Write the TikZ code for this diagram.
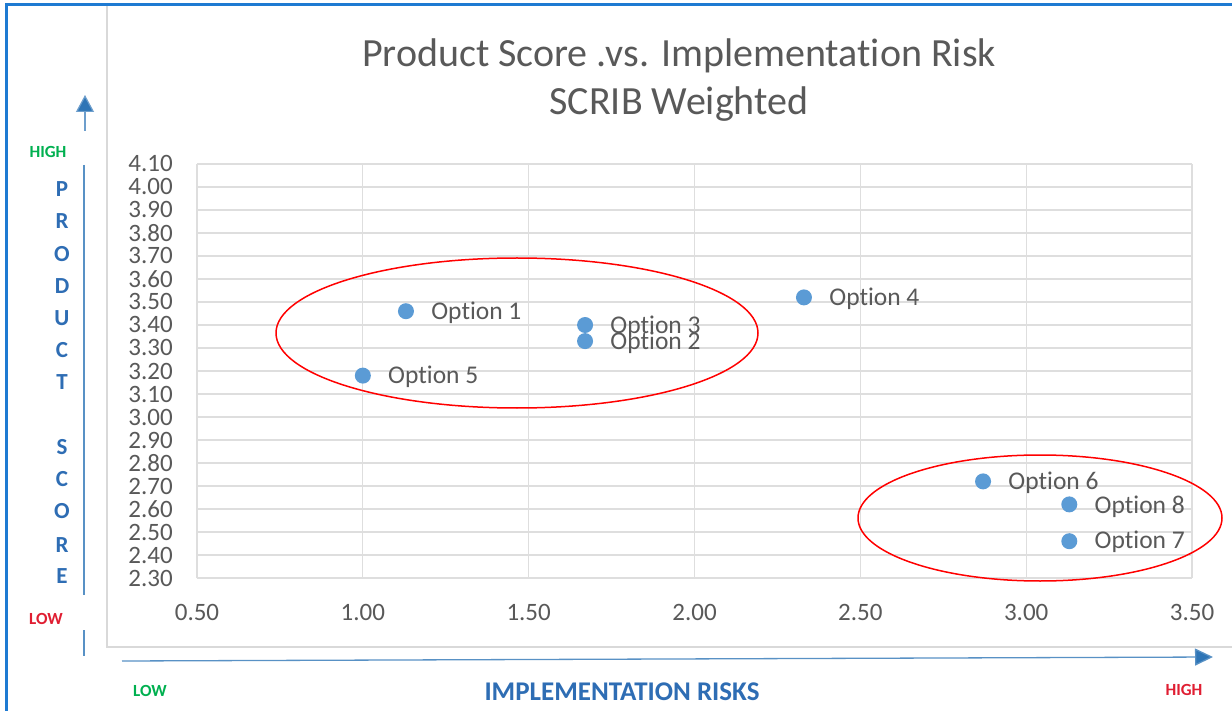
\documentclass[tikz,border=0pt]{standalone}
\usepackage{fontspec}
\setmainfont{Carlito}[Ligatures=NoCommon]
\usetikzlibrary{arrows.meta,shapes.geometric}
\definecolor{frameblue}{RGB}{30,122,210}
\definecolor{chartgray}{RGB}{217,217,217}
\definecolor{gridgray}{RGB}{222,222,222}
\definecolor{txtgray}{RGB}{89,89,89}
\definecolor{dotblue}{RGB}{91,155,213}
\definecolor{axisblue}{RGB}{46,117,182}
\definecolor{lblblue}{RGB}{46,109,180}
\definecolor{hgreen}{RGB}{0,176,80}
\definecolor{lred}{RGB}{224,30,50}
\tikzset{
  dot/.style={circle,fill=dotblue,draw=none,minimum size=16pt,inner sep=0pt},
  optlbl/.style={anchor=west,text=txtgray,font=\fontsize{25.5}{25.5}\selectfont,inner sep=0pt},
  ytick/.style={anchor=east,text=txtgray,font=\fontsize{25}{25}\selectfont,inner sep=0pt},
  xtick/.style={anchor=center,text=txtgray,font=\fontsize{25}{25}\selectfont,inner sep=0pt},
  titletxt/.style={anchor=base,text=txtgray,font=\fontsize{40}{40}\selectfont,inner sep=0pt},
  vletter/.style={text=lblblue,font=\fontsize{23}{23}\selectfont\bfseries,inner sep=0pt},
  small/.style={font=\fontsize{17}{17}\selectfont\bfseries,inner sep=0pt},
  ring/.style={ellipse,draw=red,line width=1.5pt,inner sep=0pt},
  axisline/.style={draw=axisblue!80,line width=1.3pt},
}
\begin{document}
\begin{tikzpicture}[x=1pt,y=-1pt]
\useasboundingbox (0,0) rectangle (1232,711);
\begin{scope}
\clip (0,0) rectangle (1232,711);
\fill[white] (0,0) rectangle (1232,711);
% chart area border
\draw[chartgray,line width=2pt] (107,3) -- (107,647) -- (1240,647);
% outer blue frame
\draw[frameblue,line width=3pt] (6,760) -- (6,5) -- (1240,5);
\end{scope}

% title
\node[titletxt] (t1) at (679,67) {Product Score .vs. Implementation Risk};
\node[titletxt] (t2) at (679,115) {SCRIB Weighted};

% plot area in data coordinates
\begin{scope}[shift={(31.17pt,-1107pt)},x={(331.67pt,0pt)},y={(0pt,230pt)}]
  \foreach \i in {0,...,18}{
    \draw[gridgray,line width=1.2pt] (0.5,2.3+\i*0.1) -- (3.5,2.3+\i*0.1);
  }
  \foreach \i in {0,...,6}{
    \draw[gridgray,line width=1.2pt] (0.5+\i*0.5,2.3) -- (0.5+\i*0.5,4.1);
  }
  \foreach \t [count=\i from 0] in {2.30,2.40,2.50,2.60,2.70,2.80,2.90,3.00,3.10,3.20,3.30,3.40,3.50,3.60,3.70,3.80,3.90,4.00,4.10}{
    \node[ytick] (yt\i) at ([xshift=-24pt]0.5,2.3+\i*0.1) {\t};
  }
  \foreach \t [count=\i from 0] in {0.50,1.00,1.50,2.00,2.50,3.00,3.50}{
    \node[xtick] (xt\i) at ([yshift=-34pt]0.5+\i*0.5,2.3) {\t};
  }
  \node[dot] (o1) at (1.13,3.46) {};
  \node[dot] (o2) at (1.67,3.33) {};
  \node[dot] (o3) at (1.67,3.40) {};
  \node[dot] (o4) at (2.33,3.52) {};
  \node[dot] (o5) at (1.00,3.18) {};
  \node[dot] (o6) at (2.87,2.72) {};
  \node[dot] (o7) at (3.13,2.46) {};
  \node[dot] (o8) at (3.13,2.62) {};
\end{scope}
\node[optlbl] (l1) at ([xshift=17pt,yshift=-2pt]o1.east) {Option 1};
\node[optlbl] (l3) at ([xshift=17pt,yshift=-2pt]o3.east) {Option 3};
\node[optlbl] (l2) at ([xshift=17pt,yshift=-2pt]o2.east) {Option 2};
\node[optlbl] (l4) at ([xshift=17pt,yshift=-1pt]o4.east) {Option 4};
\node[optlbl] (l5) at ([xshift=17pt,yshift=-1pt]o5.east) {Option 5};
\node[optlbl] (l6) at ([xshift=17pt,yshift=-1pt]o6.east) {Option 6};
\node[optlbl] (l8) at ([xshift=17pt,yshift=-2pt]o8.east) {Option 8};
\node[optlbl] (l7) at ([xshift=17pt,yshift=-1pt]o7.east) {Option 7};

% red rings
\node[ring,minimum width=482pt,minimum height=150pt] (g1) at (517,333) {};
\node[ring,minimum width=364pt,minimum height=126pt] (g2) at (1040,518) {};

% vertical axis
\coordinate (va0) at (85,131);
\coordinate (va1) at (85,95);
\draw[axisblue!70,line width=1.2pt,-{Triangle[width=18pt,length=17pt,fill=axisblue]}] (va0) -- (va1);
\node[small,text=hgreen] (yhigh) at (48,152) {HIGH};
\coordinate (vl0) at (84,165);
\coordinate (vl1) at (84,595);
\draw[axisline] (vl0) -- (vl1);
\node[small,text=lred] (ylow) at (46,619) {LOW};
\coordinate (vs0) at (84,630);
\coordinate (vs1) at (84,656);
\draw[axisline] (vs0) -- (vs1);
\foreach \c/\yy [count=\k] in {P/189,R/221,O/254,D/286,U/318,C/350,T/382,S/447,C/479,O/511,R/545,E/576}{
  \node[vletter] (vlet\k) at (62,\yy) {\c};
}

% horizontal axis
\coordinate (ha0) at (122,661);
\coordinate (ha1) at (1213,657);
\draw[axisline,-{Triangle[width=17pt,length=18pt,fill=axisblue]}] (ha0) -- (ha1);
\node[small,text=hgreen] (xlow) at (150,691) {LOW};
\node[text=lblblue,font=\fontsize{27}{27}\selectfont\bfseries,inner sep=0pt] (xlbl) at (622,692) {IMPLEMENTATION RISKS};
\node[small,text=lred] (xhigh) at (1184,690) {HIGH};
\end{tikzpicture}
\end{document}
